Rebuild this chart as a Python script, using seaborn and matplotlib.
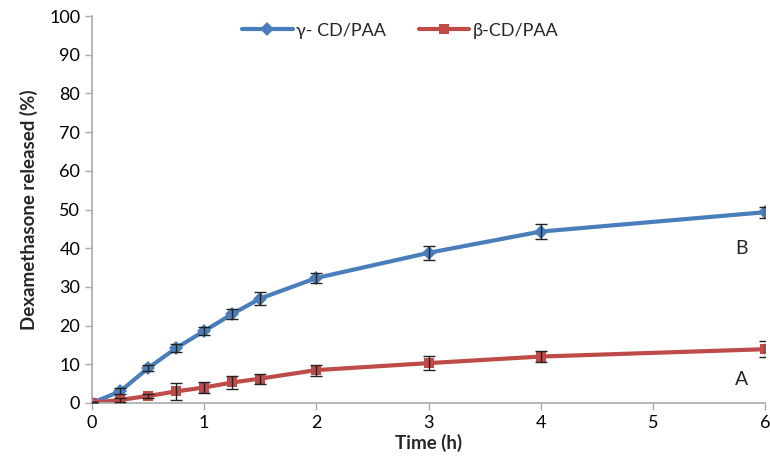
import matplotlib
matplotlib.use("Agg")
import matplotlib.pyplot as plt
import seaborn as sns
import pandas as pd

time_h = [0, 0.25, 0.5, 0.75, 1, 1.25, 1.5, 2, 3, 4, 6]
gamma_vals = [0, 3.0, 9.0, 14.2, 18.6, 23.0, 27.0, 32.3, 38.8, 44.3, 49.3]
gamma_err = [0.3, 0.8, 0.8, 1.0, 1.0, 1.2, 1.6, 1.2, 1.8, 2.0, 1.4]
beta_vals = [0, 0.8, 1.8, 3.0, 4.0, 5.3, 6.3, 8.5, 10.3, 12.0, 13.9]
beta_err = [0.3, 0.5, 0.6, 2.2, 1.5, 1.8, 1.3, 1.4, 1.8, 1.4, 2.0]
series_names = ["γ- CD/PAA", "β-CD/PAA"]
x_ticks = [0, 1, 2, 3, 4, 5, 6]
y_ticks = list(range(0, 101, 10))

sns.set_theme(style="white")
plt.rcParams['font.family'] = ['Lato', 'DejaVu Sans']

df = pd.DataFrame({
    "t": time_h * 2,
    "v": gamma_vals + beta_vals,
    "s": [series_names[0]] * len(time_h) + [series_names[1]] * len(time_h),
})

fig = plt.figure(figsize=(7.7, 4.71), dpi=100)
ax = fig.add_axes([0.1195, 0.1444, 0.874, 0.8216])

colors = {series_names[0]: "#4a7ebb", series_names[1]: "#be4b48"}
markers = {series_names[0]: "D", series_names[1]: "s"}

sns.lineplot(data=df, x="t", y="v", hue="s", style="s",
             palette=colors, markers=markers, dashes=False,
             linewidth=3, markersize=7, markeredgewidth=0,
             ax=ax, zorder=2)

for name, vals, err in [(series_names[0], gamma_vals, gamma_err),
                        (series_names[1], beta_vals, beta_err)]:
    ax.errorbar(time_h, vals, yerr=err, fmt="none", ecolor="#222222",
                elinewidth=1, capsize=4, capthick=1, zorder=3)

ax.set_xlim(0, 6)
ax.set_ylim(0, 100)
ax.set_xticks(x_ticks)
ax.set_yticks(y_ticks)
ax.tick_params(axis="both", labelsize=13, length=5,
               direction="out", left=True, bottom=True, width=1,
               colors="#aaaaaa", labelcolor="black")
for sp in ["top", "right"]:
    ax.spines[sp].set_visible(False)
for sp in ["left", "bottom"]:
    ax.spines[sp].set_color("#aaaaaa")
    ax.spines[sp].set_linewidth(1.2)

ax.set_xlabel("Time (h)", fontsize=13.5, fontweight="bold", labelpad=2)
ax.set_ylabel("Dexamethasone released (%)", fontsize=13.5, fontweight="bold", labelpad=8)

ax.text(5.79, 40, "B", fontsize=14, ha="center", va="center")
ax.text(5.79, 6, "A", fontsize=14, ha="center", va="center")

ax.legend(loc="upper center", bbox_to_anchor=(0.458, 1.025), ncol=2,
          frameon=False, fontsize=13, handlelength=2.8,
          columnspacing=1.8, handletextpad=0.2)

fig.savefig("out.png", dpi=100, facecolor="white")
